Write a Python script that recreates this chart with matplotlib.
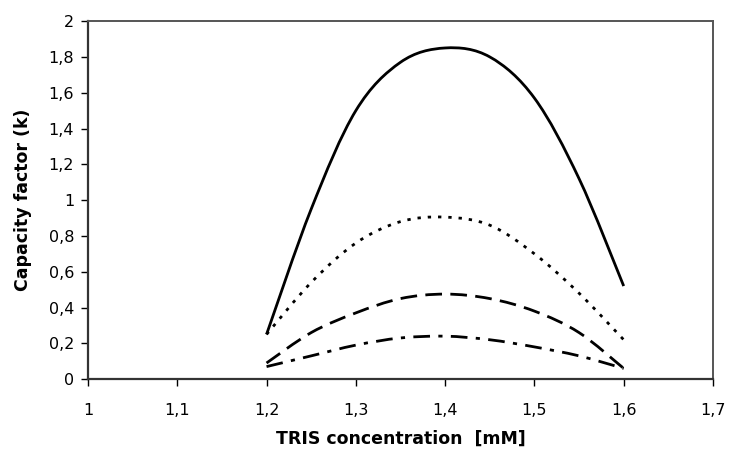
import numpy as np
import matplotlib
matplotlib.use("Agg")
import matplotlib.pyplot as plt
from matplotlib.path import Path
from matplotlib.patches import PathPatch
from matplotlib.ticker import FuncFormatter, MultipleLocator

tris = [1.20, 1.25, 1.30, 1.35, 1.40, 1.45, 1.50, 1.55, 1.60]
k_solid = [0.25, 0.95, 1.50, 1.77, 1.85, 1.80, 1.57, 1.12, 0.52]
k_dotted = [0.25, 0.54, 0.76, 0.88, 0.905, 0.86, 0.70, 0.48, 0.22]
k_dashed = [0.09, 0.26, 0.37, 0.45, 0.475, 0.45, 0.38, 0.26, 0.06]
k_dashdot = [0.07, 0.13, 0.19, 0.23, 0.24, 0.22, 0.18, 0.13, 0.06]

plt.rcParams['font.family'] = ['DejaVu Sans']

fig = plt.figure(figsize=(7.30, 4.59), dpi=100)
ax = fig.add_axes([0.1205, 0.174, 0.8562, 0.780])


def smooth_path(x, y):
    # Catmull-Rom style Bezier (like Excel smoothed lines)
    x = np.asarray(x, float); y = np.asarray(y, float)
    n = len(x)
    verts = [(x[0], y[0])]
    codes = [Path.MOVETO]
    for i in range(n - 1):
        p0 = np.array([x[max(i - 1, 0)], y[max(i - 1, 0)]])
        p1 = np.array([x[i], y[i]])
        p2 = np.array([x[i + 1], y[i + 1]])
        p3 = np.array([x[min(i + 2, n - 1)], y[min(i + 2, n - 1)]])
        c1 = p1 + (p2 - p0) / 6.0
        c2 = p2 - (p3 - p1) / 6.0
        verts += [tuple(c1), tuple(c2), tuple(p2)]
        codes += [Path.CURVE4] * 3
    return Path(verts, codes)


styles = [
    (k_solid, '-', 2.0),
    (k_dotted, (0, (1.2, 2.5)), 2.0),
    (k_dashed, (0, (6, 3)), 2.0),
    (k_dashdot, (0, (6, 3, 1.5, 3)), 2.0),
]
for vals, ls, lw in styles:
    patch = PathPatch(smooth_path(tris, vals), facecolor='none', edgecolor='black',
                      linestyle=ls, linewidth=lw)
    ax.add_patch(patch)

ax.set_xlim(1.0, 1.7)
ax.set_ylim(0, 2)
ax.xaxis.set_major_locator(MultipleLocator(0.1))
ax.yaxis.set_major_locator(MultipleLocator(0.2))
fmt = FuncFormatter(lambda v, p: ('%g' % round(v, 3)).replace('.', ','))
ax.xaxis.set_major_formatter(fmt)
ax.yaxis.set_major_formatter(fmt)
ax.tick_params(axis='both', direction='out', length=5, width=1, labelsize=11.5, colors='black')
ax.tick_params(axis='x', pad=12)
ax.tick_params(axis='y', pad=5)
for s in ['left', 'bottom']:
    ax.spines[s].set_linewidth(1.6)
    ax.spines[s].set_color('#333333')
for s in ['top', 'right']:
    ax.spines[s].set_linewidth(1.4)
    ax.spines[s].set_color('#555555')

ax.set_xlabel('TRIS concentration  [mM]', fontsize=12.5, fontweight='bold', labelpad=9)
ax.set_ylabel('Capacity factor (k)', fontsize=12.5, fontweight='bold', labelpad=12)

fig.savefig('out.png', dpi=100)
